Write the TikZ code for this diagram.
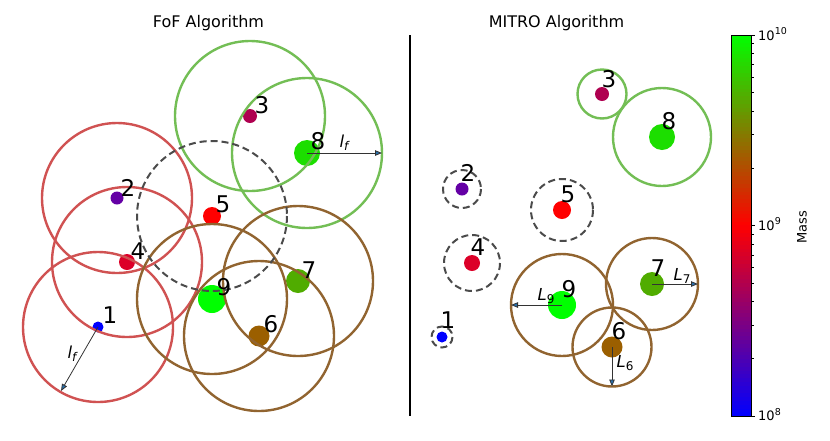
\documentclass[tikz,border=0pt]{standalone}
\usepackage{fontspec}
\setmainfont{DejaVu Sans}
\usetikzlibrary{arrows.meta}
\definecolor{c1}{RGB}{0,0,255}
\definecolor{c2}{RGB}{100,0,165}
\definecolor{c3}{RGB}{175,0,80}
\definecolor{c4}{RGB}{220,0,40}
\definecolor{c5}{RGB}{255,0,0}
\definecolor{c6}{RGB}{155,95,0}
\definecolor{c7}{RGB}{80,172,0}
\definecolor{c8}{RGB}{28,222,0}
\definecolor{c9}{RGB}{0,255,0}
\definecolor{grpred}{RGB}{208,82,82}
\definecolor{grpgreen}{RGB}{115,190,85}
\definecolor{grpbrown}{RGB}{145,100,48}
\definecolor{dashgray}{RGB}{75,75,75}
\definecolor{arrowblue}{RGB}{40,110,170}
\begin{document}
\begin{tikzpicture}[x=1pt,y=-1pt,
  particle/.style={circle, inner sep=0pt, draw=none},
  num/.style={font=\fontsize{23}{27}\selectfont, inner sep=0pt},
  halo/.style={line width=2.4pt},
  dashhalo/.style={line width=2pt, draw=dashgray, dash pattern=on 7pt off 4pt},
  radarrow/.style={line width=0.8pt, draw=black!80, -{Triangle[length=7pt,width=5.5pt,fill=arrowblue]}},
  lab/.style={font=\fontsize{16.5}{18}\selectfont\itshape, inner sep=0pt},
  title/.style={anchor=base, font=\fontsize{16}{19}\selectfont},
  ticklab/.style={anchor=base west, inner sep=0pt, font=\fontsize{13}{15}\selectfont}]
\useasboundingbox (0,0) rectangle (830,440);

% titles
\node[title] (tfof) at (208.5,27) {FoF Algorithm};
\node[title] (tmitro) at (556.5,27) {MITRO Algorithm};

% divider
\draw[line width=2pt] (410,35) -- (410,416);

% ---------- FoF panel ----------
\node[particle, fill=c1, minimum size=11pt] (f1) at (98,327) {};
\node[particle, fill=c2, minimum size=13pt] (f2) at (117,198) {};
\node[particle, fill=c3, minimum size=14pt] (f3) at (250,116) {};
\node[particle, fill=c4, minimum size=16pt] (f4) at (127,262) {};
\node[particle, fill=c5, minimum size=18pt] (f5) at (212,216) {};
\node[particle, fill=c6, minimum size=21pt] (f6) at (259,336) {};
\node[particle, fill=c7, minimum size=24pt] (f7) at (298,281) {};
\node[particle, fill=c8, minimum size=26pt] (f8) at (307,153) {};
\node[particle, fill=c9, minimum size=28pt] (f9) at (212,299) {};

\draw[halo, grpred] (f1.center) circle (75);
\draw[halo, grpred] (f2.center) circle (75);
\draw[halo, grpred] (f4.center) circle (75);
\draw[halo, grpgreen] (f3.center) circle (75);
\draw[halo, grpgreen] (f8.center) circle (75);
\draw[halo, grpbrown] (f6.center) circle (75);
\draw[halo, grpbrown] (f7.center) circle (75);
\draw[halo, grpbrown] (f9.center) circle (75);
\draw[dashhalo] (f5.center) circle (75);

\coordinate (f8end) at (382,153);
\coordinate (f1end) at (61,391);
\draw[radarrow] (f8.center) -- (f8end);
\draw[radarrow] (f1.center) -- (f1end);
\node[lab] (lf8) at (344,143) {l\raisebox{-3pt}{\fontsize{12}{13}\selectfont f}};
\node[lab] (lf1) at (72,354) {l\raisebox{-3pt}{\fontsize{12}{13}\selectfont f}};

\node[num] (nf1) at (110,315) {1};
\node[num] (nf2) at (128,188) {2};
\node[num] (nf3) at (262,105) {3};
\node[num] (nf4) at (138,251) {4};
\node[num] (nf5) at (223,204) {5};
\node[num] (nf6) at (271,324) {6};
\node[num] (nf7) at (309,270) {7};
\node[num] (nf8) at (318,141) {8};
\node[num] (nf9) at (224,287) {9};

% ---------- MITRO panel ----------
\node[particle, fill=c1, minimum size=11pt] (m1) at (442,337) {};
\node[particle, fill=c2, minimum size=13pt] (m2) at (462,189) {};
\node[particle, fill=c3, minimum size=14pt] (m3) at (602,94) {};
\node[particle, fill=c4, minimum size=16pt] (m4) at (472,263) {};
\node[particle, fill=c5, minimum size=18pt] (m5) at (562,210) {};
\node[particle, fill=c6, minimum size=21pt] (m6) at (612,347) {};
\node[particle, fill=c7, minimum size=24pt] (m7) at (652,284) {};
\node[particle, fill=c8, minimum size=26pt] (m8) at (662,137) {};
\node[particle, fill=c9, minimum size=28pt] (m9) at (562,305) {};

\draw[dashhalo] (m1.center) circle (10.5);
\draw[dashhalo] (m2.center) circle (19);
\draw[dashhalo] (m4.center) circle (28);
\draw[dashhalo] (m5.center) circle (31);
\draw[halo, grpgreen] (m3.center) circle (24.5);
\draw[halo, grpgreen] (m8.center) circle (49);
\draw[halo, grpbrown] (m6.center) circle (39.5);
\draw[halo, grpbrown] (m7.center) circle (46);
\draw[halo, grpbrown] (m9.center) circle (51);

\coordinate (m9end) at (511,305);
\coordinate (m7end) at (698,284);
\coordinate (m6end) at (612,386.5);
\draw[radarrow] (m9.center) -- (m9end);
\draw[radarrow] (m7.center) -- (m7end);
\draw[radarrow] (m6.center) -- (m6end);
\node[lab] (l9) at (546,296) {L\raisebox{-3pt}{\upshape\fontsize{12}{13}\selectfont 9}};
\node[lab] (l7) at (682,276) {L\raisebox{-3pt}{\upshape\fontsize{12}{13}\selectfont 7}};
\node[lab] (l6) at (625,363) {L\raisebox{-3pt}{\upshape\fontsize{12}{13}\selectfont 6}};

\node[num] (nm1) at (448,320) {1};
\node[num] (nm2) at (468,173) {2};
\node[num] (nm3) at (609,79) {3};
\node[num] (nm4) at (478,247) {4};
\node[num] (nm5) at (568,194) {5};
\node[num] (nm6) at (619,331) {6};
\node[num] (nm7) at (658,268) {7};
\node[num] (nm8) at (669,121) {8};
\node[num] (nm9) at (569,289) {9};

% ---------- colour bar ----------
\foreach \i in {0,...,49}{
  \pgfmathtruncatemacro\p{2*\i+1}
  \fill[red!\p!blue] (731,{416-3.81*\i+0.3}) rectangle (751,{416-3.81*(\i+1)-0.3});
  \fill[green!\p!red] (731,{225.5-3.81*\i+0.3}) rectangle (751,{225.5-3.81*(\i+1)-0.3});
}
\draw[line width=0.8pt] (731,35) rectangle (751,416);
\foreach \y in {35,225.5,416}{
  \draw[line width=0.8pt] (751,\y) -- (755,\y);
}
\foreach \k in {2,...,9}{
  \pgfmathsetmacro\d{190.5*ln(\k)/ln(10)}
  \draw[line width=0.6pt] (751,{416-\d}) -- (753.5,{416-\d});
  \draw[line width=0.6pt] (751,{225.5-\d}) -- (753.5,{225.5-\d});
}
\node[ticklab] (t10) at (758,40) {10\raisebox{5.5pt}{\fontsize{9.5}{11}\selectfont 10}};
\node[ticklab] (t9) at (758,230.3) {10\raisebox{5.5pt}{\fontsize{9.5}{11}\selectfont 9}};
\node[ticklab] (t8) at (758,420.8) {10\raisebox{5.5pt}{\fontsize{9.5}{11}\selectfont 8}};
\node[rotate=90, font=\fontsize{13}{15}\selectfont, inner sep=0pt] (mass) at (802,227) {Mass};
\end{tikzpicture}
\end{document}
